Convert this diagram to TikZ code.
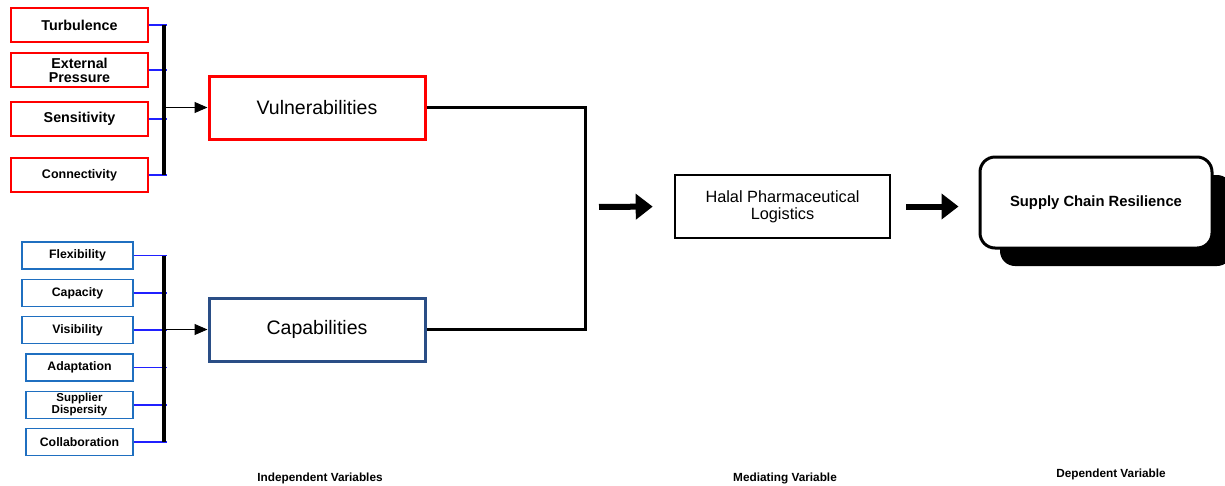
\documentclass[tikz,border=0pt]{standalone}
\usepackage{fontspec}
\setmainfont{Liberation Sans}
\usepackage{tikz}
\usetikzlibrary{arrows.meta,positioning,calc,shadows}
\definecolor{Ink}{HTML}{000000}
\definecolor{Red}{HTML}{FF0000}
\definecolor{Navy}{HTML}{2A4E86}
\definecolor{Blue}{HTML}{1F6FC0}
\definecolor{Wire}{HTML}{2020FF}
\tikzset{
  riskbox/.style={draw=Red,line width=1.2pt,fill=white,minimum width=137pt,minimum height=34pt,align=center,inner sep=1pt,font=\bfseries\fontsize{14.3}{14}\selectfont},
  capbox/.style={draw=Blue,line width=1.2pt,fill=white,minimum height=27pt,align=center,inner sep=1pt,font=\bfseries\fontsize{12.3}{12}\selectfont},
  mainbox/.style={line width=3pt,fill=white,minimum width=216pt,minimum height=63pt,font=\fontsize{19.5}{20}\selectfont},
  medbox/.style={draw=Ink,line width=2.6pt,minimum width=215pt,minimum height=63pt,align=center,font=\fontsize{16.3}{17}\selectfont},
  resbox/.style={draw=Ink,line width=3pt,fill=white,rounded corners=15pt,minimum width=232pt,minimum height=91pt,font=\bfseries\fontsize{14.8}{15}\selectfont,drop shadow={shadow xshift=20pt,shadow yshift=-18pt,fill=Ink,opacity=1}},
  wire/.style={draw=Wire,line width=1.1pt},
  bus/.style={draw=Ink,line width=3.2pt},
  arrow/.style={-{Triangle[length=13pt,width=11pt]},draw=Ink,line width=1pt},
  fat/.style={-{Triangle[length=17pt,width=25pt]},draw=Ink,line width=6pt},
  linkline/.style={draw=Ink,line width=3pt},
  caption/.style={font=\bfseries\fontsize{11.8}{12}\selectfont}
}
\begin{document}
\begin{tikzpicture}[x=1pt,y=-1pt]
  \useasboundingbox (0,0) rectangle (1225,485);
  \node[riskbox] (turb) at (79.5,25) {Turbulence};
  \node[riskbox] (press) at (79.5,70) {External\\Pressure};
  \node[riskbox] (sens) at (79.5,119) {Sensitivity};
  \node[riskbox,font=\bfseries\fontsize{12.5}{12}\selectfont] (conn) at (79.5,175) {Connectivity};
  \node[capbox,minimum width=111pt] (flex) at (77.5,255.5) {Flexibility};
  \node[capbox,minimum width=111pt] (capa) at (77.5,293) {Capacity};
  \node[capbox,minimum width=111pt] (visi) at (77.5,330) {Visibility};
  \node[capbox,minimum width=107pt] (adap) at (79.5,367.5) {Adaptation};
  \node[capbox,minimum width=107pt,font=\bfseries\fontsize{11.5}{12}\selectfont] (disp) at (79.5,405) {Supplier\\Dispersity};
  \node[capbox,minimum width=107pt] (coll) at (79.5,442) {Collaboration};
  \node[mainbox,draw=Red] (vuln) at (317,107.5) {Vulnerabilities};
  \node[mainbox,draw=Navy] (capab) at (317,329.5) {Capabilities};
  \node[medbox] (halal) at (782.5,206.5) {Halal Pharmaceutical\\Logistics};
  \node[resbox] (scr) at (1096,202.5) {Supply Chain Resilience};
  \node[caption] (indep) at (320,478) {Independent Variables};
  \node[caption] (medi) at (785,478) {Mediating Variable};
  \node[caption] (dep) at (1111,474) {Dependent Variable};
  \coordinate (busA) at (164,25);
  \coordinate (busB) at (164,256);
  \coordinate (jn) at (585,207);
  \foreach \n in {turb,press,sens,conn}
    \draw[wire] (\n.east) -- ($(\n.east -| busA)+(3,0)$);
  \foreach \n in {flex,capa,visi,adap,disp,coll}
    \draw[wire] (\n.east) -- ($(\n.east -| busB)+(3,0)$);
  \draw[bus] (busA) -- (conn.east -| busA);
  \draw[bus] (busB) -- (coll.east -| busB);
  \draw[arrow] (vuln.west -| busA) -- (vuln.west);
  \draw[arrow] (capab.west -| busB) -- (capab.west);
  \draw[linkline] (vuln.east) -| (jn) |- (capab.east);
  \draw[fat,shorten <=14pt,shorten >=21pt] (jn) -- (halal.west);
  \draw[fat,shorten <=15pt,shorten >=20pt] (halal.east) -- (halal.east -| scr.west);
\end{tikzpicture}
\end{document}
